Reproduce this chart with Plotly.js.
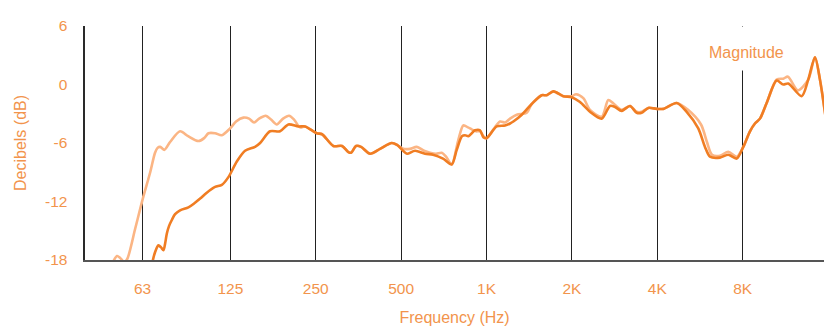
<!DOCTYPE html>
<html>
<head>
<meta charset="utf-8">
<script src="https://cdn.plot.ly/plotly-3.0.1.min.js"></script>
<style>html,body{margin:0;padding:0;background:#fff;}#chart{width:824px;height:327px;}</style>
</head>
<body>
<div id="chart"></div>
<script>
// Light curve (frequency in Hz, level in dB)
const lightFreq = [48.2,49.8,51.1,52.8,54.1,57.7,61.4,65.2,67.8,69.2,70.7,73.2,76.6,83.1,88.7,96.4,101.0,104.6,110.4,116.6,124.7,130.9,138.9,145.5,151.5,157.8,166.6,173.9,182.2,191.7,201.3,209.6,220.1,229.2,252.0,263.1,288.4,309.5,324.9,332.9,346.7,361.1,388.4,421.3,463.3,483.6,509.0,537.4,567.5,602.1,632.2,663.7,695.1,719.8,753.9,793.5,828.2,860.5,886.7,918.2,948.5,974.2,1001,1046,1116,1162,1210,1278,1386,1443,1565,1630,1720,1865,1997,2068,2194,2316,2547,2687,2792,2995,3204,3383,3524,3718,3980,4199,4682,5131,5703,5986,6235,6653,7117,7619,8038,8487,8838,9204,9718,10540,11120,11554,12530,13622,14383,14979,15726];
const lightDb = [-18.2,-17.6,-17.8,-18.2,-17.9,-14.8,-11.7,-9.0,-7.0,-6.5,-6.4,-6.7,-5.9,-4.8,-5.3,-5.8,-5.5,-5.0,-5.0,-5.2,-4.5,-3.8,-3.4,-3.5,-3.9,-3.5,-3.2,-3.6,-4.1,-3.5,-3.2,-3.6,-4.4,-4.3,-5.0,-5.1,-6.3,-6.3,-6.9,-7.0,-6.3,-6.4,-7.1,-6.6,-6.0,-6.2,-6.6,-6.6,-6.4,-6.8,-7.0,-7.1,-7.0,-7.4,-8.2,-5.8,-4.2,-4.4,-4.6,-4.8,-4.8,-5.3,-5.5,-4.8,-3.8,-3.9,-3.5,-3.1,-2.9,-2.0,-1.1,-1.1,-0.7,-1.2,-1.2,-1.0,-1.4,-2.6,-3.3,-1.6,-1.9,-2.6,-2.2,-2.8,-2.8,-2.4,-2.5,-2.5,-1.9,-2.6,-4.1,-5.9,-7.2,-7.3,-6.9,-7.4,-6.4,-4.8,-4.0,-3.5,-1.9,0.5,0.6,0.8,-0.6,0.5,2.8,0.5,-3.6];

// Dark curve (frequency in Hz, level in dB)
const darkFreq = [65.7,67.8,69.7,71.2,72.6,73.6,74.6,76.0,77.7,79.8,83.1,88.9,93.1,97.8,103.2,110.4,116.6,123.0,131.7,140.8,152.7,159.1,172.5,187.1,200.1,217.1,229.2,252.0,263.1,288.4,309.5,324.9,332.9,346.7,361.1,388.4,421.3,463.3,483.6,507.7,524.5,559.7,607.0,647.7,702.5,753.9,785.1,819.6,839.8,862.6,910.8,948.5,974.2,1001,1086,1162,1210,1243,1331,1443,1565,1630,1720,1865,1997,2136,2316,2547,2724,2837,2995,3204,3383,3524,3718,3980,4199,4682,5077,5578,5890,6134,6653,7117,7619,8038,8487,8838,9204,9718,10540,11120,11581,12911,13622,14383,14979,15726];
const darkDb = [-18.8,-17.2,-16.5,-16.7,-17.0,-16.3,-15.3,-14.5,-13.9,-13.3,-12.9,-12.6,-12.2,-11.7,-11.1,-10.5,-10.3,-9.5,-7.9,-6.8,-6.4,-6.0,-4.8,-4.8,-4.1,-4.3,-4.3,-5.0,-5.1,-6.3,-6.3,-6.9,-7.0,-6.3,-6.4,-7.1,-6.6,-6.0,-6.2,-6.8,-7.1,-6.8,-7.1,-7.2,-7.6,-8.2,-6.7,-5.3,-5.2,-5.3,-4.7,-4.7,-5.4,-5.5,-4.3,-4.2,-4.0,-3.8,-3.1,-2.0,-1.1,-1.1,-0.7,-1.2,-1.3,-1.8,-2.8,-3.5,-2.2,-2.3,-2.7,-2.2,-2.9,-2.9,-2.4,-2.5,-2.5,-1.9,-2.8,-4.5,-6.4,-7.4,-7.5,-7.2,-7.6,-6.4,-4.8,-4.0,-3.5,-1.9,0.4,0.0,0.1,-1.2,0.5,2.8,0.5,-3.6];

// Axis ticks
const xTickVals = [61.3,125,250,500,1000,2000,4000,8000];
const xTickText = ["63","125","250","500","1K","2K","4K","8K"];
const yTickVals = [-18,-12,-6,0,6];
const yTickText = ["-18","-12","-6","0","6"];
const legendLabel = "Magnitude";

const textColor = "#f2944c";
const fontFam = "'Liberation Sans', Arial, Helvetica, sans-serif";

const traces = [
  {x: lightFreq, y: lightDb, type: "scatter", mode: "lines", name: "Light",
   line: {color: "#fbb584", width: 2.6, shape: "spline", smoothing: 0.8}, hoverinfo: "skip", showlegend: false},
  {x: darkFreq, y: darkDb, type: "scatter", mode: "lines", name: legendLabel,
   line: {color: "#f07d23", width: 2.6, shape: "spline", smoothing: 0.8}, hoverinfo: "skip", showlegend: false}
];

const layout = {
  width: 824, height: 327,
  margin: {l: 85, r: 0, t: 26, b: 67, pad: 0},
  paper_bgcolor: "#fff", plot_bgcolor: "#fff",
  font: {family: fontFam, color: textColor, size: 15},
  showlegend: false,
  xaxis: {
    type: "log",
    range: [Math.log10(38.4), Math.log10(15480)],
    tickvals: xTickVals, ticktext: xTickText,
    showgrid: true, gridcolor: "#222", gridwidth: 1,
    showline: true, linecolor: "#555", linewidth: 2,
    zeroline: false, ticks: "",
    ticklabelstandoff: 13,
    tickfont: {size: 15.5, color: textColor},
    title: {text: "Frequency (Hz)", font: {size: 16, color: textColor}, standoff: 16}
  },
  yaxis: {
    range: [-18, 6],
    tickvals: yTickVals, ticktext: yTickText,
    showgrid: false, zeroline: false,
    showline: true, linecolor: "#2a2a2a", linewidth: 2.5,
    ticks: "", ticklabelstandoff: 12,
    tickfont: {size: 15.5, color: textColor},
    title: {text: "Decibels (dB)", font: {size: 16, color: textColor}, standoff: 15}
  },
  annotations: [
    {xref: "paper", yref: "paper", x: 0.8945, y: 1, xanchor: "center", yanchor: "top",
     text: " ", width: 92, height: 43, bgcolor: "#fff", borderpad: 0, showarrow: false},
    {xref: "paper", yref: "paper", x: 0.8945, y: (260 - 52) / 234, xanchor: "center", yanchor: "middle",
     text: legendLabel, font: {size: 16, color: textColor}, showarrow: false}
  ]
};

Plotly.newPlot("chart", traces, layout, {staticPlot: true, displayModeBar: false});
</script>
</body>
</html>
